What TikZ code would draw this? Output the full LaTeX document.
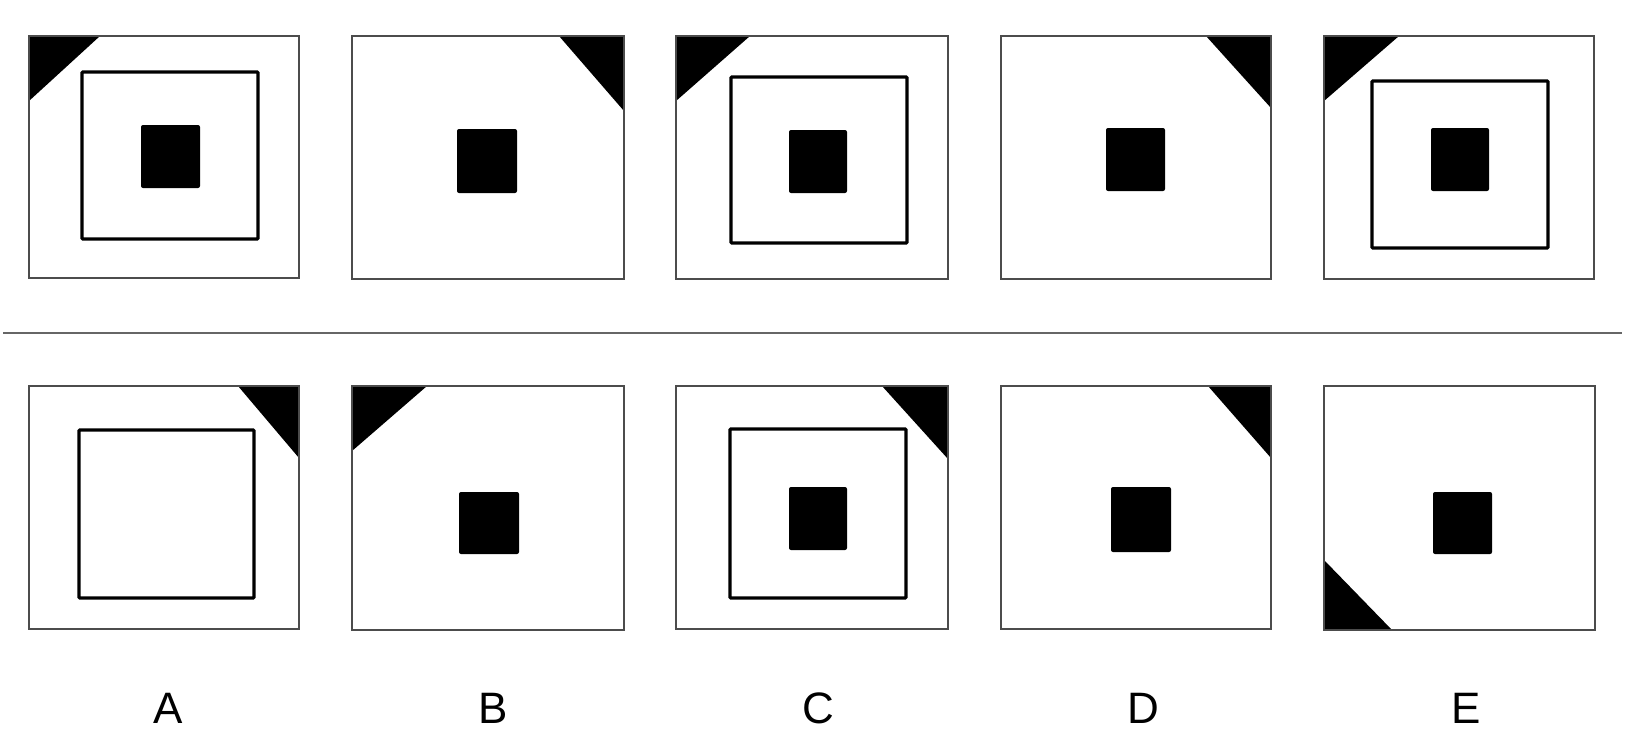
\documentclass[tikz,border=0pt]{standalone}
\usepackage{fontspec}
\setmainfont{Liberation Sans}
\begin{document}
\begin{tikzpicture}[x=1pt,y=-1pt,
  outerbox/.style={draw=black!70, line width=2.4pt},
  innerbox/.style={draw=black, line width=3.4pt, rounded corners=1pt},
  dot/.style={fill=black, rounded corners=2pt},
  corner/.style={fill=black},
  sep/.style={draw=black!60, line width=2pt},
  lbl/.style={inner sep=0pt, font=\fontsize{44}{48}\selectfont}]
\useasboundingbox (0,0) rectangle (1632,747);
% ---- top row ----
% 1
\fill[corner] (29,36) -- (100,36) -- (29,101) -- cycle;
\draw[outerbox] (29,36) rectangle (299,278);
\draw[innerbox] (82,72) rectangle (258,239);
\fill[dot] (141,125) rectangle (200,188);
% 2
\fill[corner] (624,36) -- (559,36) -- (624,111) -- cycle;
\draw[outerbox] (352,36) rectangle (624,279);
\fill[dot] (457,129) rectangle (517,193);
% 3
\fill[corner] (676,36) -- (750,36) -- (676,101) -- cycle;
\draw[outerbox] (676,36) rectangle (948,279);
\draw[innerbox] (731,77) rectangle (907,243);
\fill[dot] (789,130) rectangle (847,193);
% 4
\fill[corner] (1271,36) -- (1206,36) -- (1271,108) -- cycle;
\draw[outerbox] (1001,36) rectangle (1271,279);
\fill[dot] (1106,128) rectangle (1165,191);
% 5
\fill[corner] (1324,36) -- (1399,36) -- (1324,101) -- cycle;
\draw[outerbox] (1324,36) rectangle (1594,279);
\draw[innerbox] (1372,81) rectangle (1548,248);
\fill[dot] (1431,128) rectangle (1489,191);
% ---- separator ----
\coordinate (sepL) at (3,333);
\coordinate (sepR) at (1622,333);
\draw[sep] (sepL) -- (sepR);
% ---- bottom row ----
% A
\fill[corner] (299,386) -- (238,386) -- (299,458) -- cycle;
\draw[outerbox] (29,386) rectangle (299,629);
\draw[innerbox] (79,430) rectangle (254,598);
% B
\fill[corner] (352,386) -- (427,386) -- (352,451) -- cycle;
\draw[outerbox] (352,386) rectangle (624,630);
\fill[dot] (459,492) rectangle (519,554);
% C
\fill[corner] (948,386) -- (882,386) -- (948,459) -- cycle;
\draw[outerbox] (676,386) rectangle (948,629);
\draw[innerbox] (730,429) rectangle (906,598);
\fill[dot] (789,487) rectangle (847,550);
% D
\fill[corner] (1271,386) -- (1208,386) -- (1271,458) -- cycle;
\draw[outerbox] (1001,386) rectangle (1271,629);
\fill[dot] (1111,487) rectangle (1171,552);
% E
\fill[corner] (1324,630) -- (1324,560) -- (1392,630) -- cycle;
\draw[outerbox] (1324,386) rectangle (1595,630);
\fill[dot] (1433,492) rectangle (1492,554);
% ---- labels ----
\node[lbl] (la) at (168,708) {A};
\node[lbl] (lb) at (493,708) {B};
\node[lbl] (lc) at (818,708) {C};
\node[lbl] (ld) at (1143,708) {D};
\node[lbl] (le) at (1466,708) {E};
\end{tikzpicture}
\end{document}
